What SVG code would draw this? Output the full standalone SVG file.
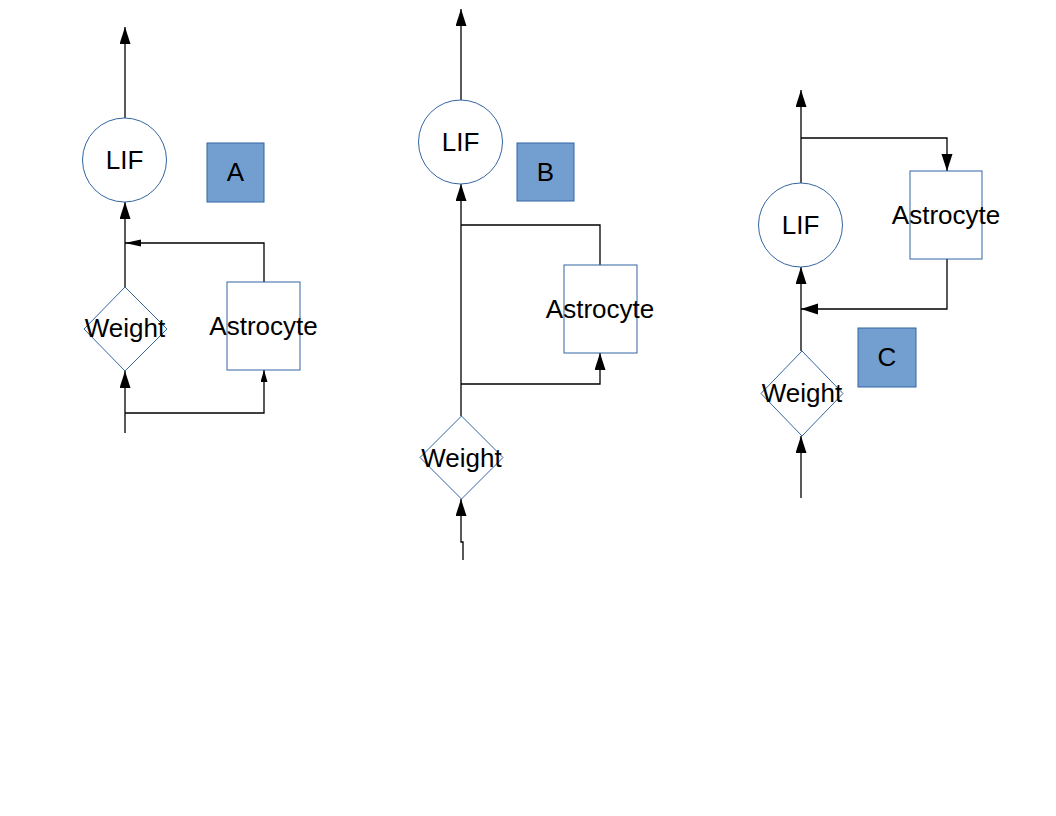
<svg xmlns="http://www.w3.org/2000/svg" width="1056" height="816" viewBox="0 0 1056 816">
<style>
.shape{fill:#ffffff;stroke:#3465a4;stroke-width:1}
.tag{fill:#729fcf;stroke:#3465a4;stroke-width:1}
.lbl{font-family:"Liberation Sans",Arial,sans-serif;font-size:26px;fill:#000000;text-anchor:middle}
.wire{fill:none;stroke:#000000;stroke-width:1.3}
.big{marker-end:url(#ah)}
.small{marker-end:url(#as)}
.thin{marker-end:url(#at)}
</style>
<defs>
<marker id="ah" markerUnits="userSpaceOnUse" markerWidth="18" markerHeight="12" refX="17" refY="5.5" orient="auto"><path d="M0,0 L17,5.5 L0,11 z" fill="#000"/></marker>
<marker id="as" markerUnits="userSpaceOnUse" markerWidth="13" markerHeight="8" refX="12" refY="3.5" orient="auto"><path d="M0,0 L12,3.5 L0,7 z" fill="#000"/></marker>
<marker id="at" markerUnits="userSpaceOnUse" markerWidth="17" markerHeight="8" refX="16" refY="3.5" orient="auto"><path d="M0,0 L16,3.5 L0,7 z" fill="#000"/></marker>
</defs>
<rect width="1056" height="816" fill="#ffffff"/>
<g id="connectors">
<path class="wire big" d="M125,118 V27"/>
<path class="wire big" d="M125,287 V202"/>
<path class="wire big" d="M125,433 V371"/>
<path class="wire small" d="M125,413 H264 V370"/>
<path class="wire thin" d="M264,282 V243 H125"/>
<path class="wire big" d="M461,100 V9"/>
<path class="wire big" d="M461,416 V184"/>
<path class="wire" d="M461,225 H600 V265"/>
<path class="wire big" d="M461,384 H600 V353"/>
<path class="wire big" d="M463,560 V542 H461 V499"/>
<path class="wire big" d="M801,184 V90"/>
<path class="wire big" d="M801,138 H947 V171"/>
<path class="wire big" d="M947,259 V309 H801"/>
<path class="wire big" d="M801,351 V267"/>
<path class="wire big" d="M801,498 V436"/>
</g>
<g id="lifA"><circle class="shape" cx="124.5" cy="160" r="42"/><text class="lbl" x="124.5" y="169">LIF</text></g>
<g id="tagA"><rect class="tag" x="207" y="143" width="57" height="59"/><text class="lbl" x="235.5" y="181">A</text></g>
<g id="weightA"><polygon class="shape" points="125,287 167,329 125,371 84,329"/><text class="lbl" x="125" y="337">Weight</text></g>
<g id="astroA"><rect class="shape" x="227" y="282" width="73" height="88"/><text class="lbl" x="263.5" y="335">Astrocyte</text></g>
<g id="lifB"><circle class="shape" cx="460.5" cy="142" r="42"/><text class="lbl" x="460.5" y="151">LIF</text></g>
<g id="tagB"><rect class="tag" x="517" y="143" width="57" height="58"/><text class="lbl" x="545.5" y="181">B</text></g>
<g id="astroB"><rect class="shape" x="564" y="265" width="73" height="88"/><text class="lbl" x="600" y="318">Astrocyte</text></g>
<g id="weightB"><polygon class="shape" points="461.5,416 503,457.5 461.5,499 420,457.5"/><text class="lbl" x="461.5" y="467">Weight</text></g>
<g id="lifC"><circle class="shape" cx="800.5" cy="225" r="42"/><text class="lbl" x="800.5" y="234">LIF</text></g>
<g id="astroC"><rect class="shape" x="910" y="171" width="72" height="88"/><text class="lbl" x="946" y="224">Astrocyte</text></g>
<g id="tagC"><rect class="tag" x="858" y="328" width="58" height="59"/><text class="lbl" x="887" y="366">C</text></g>
<g id="weightC"><polygon class="shape" points="802,351 843,393.5 802,436 761,393.5"/><text class="lbl" x="802" y="402">Weight</text></g>
</svg>
